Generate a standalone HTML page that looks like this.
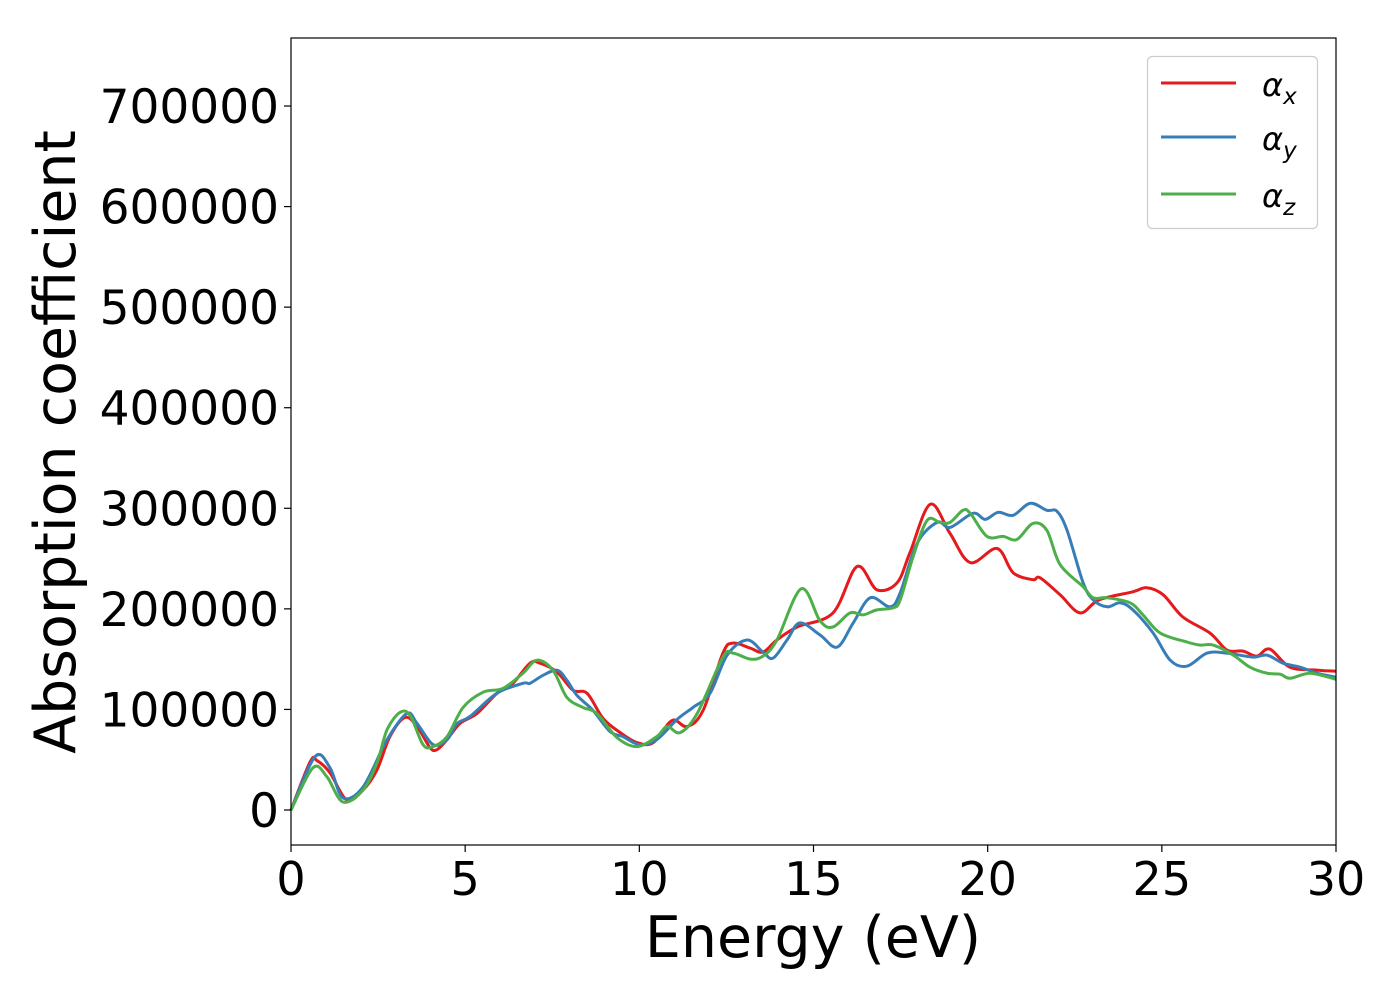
<!DOCTYPE html>
<html><head><meta charset="utf-8"><style>
body{margin:0;background:#fff;}
svg{display:block;font-family:"DejaVu Sans","Liberation Sans",sans-serif;}
</style></head><body>
<svg id="chart" width="1400" height="1000" viewBox="0 0 1400 1000" xmlns="http://www.w3.org/2000/svg">
<rect x="0" y="0" width="1400" height="1000" fill="#fff"/>
<g id="series"></g>
<rect x="291" y="38" width="1045" height="807" fill="none" stroke="#000" stroke-width="1.2"/>
<g id="xticks"></g>
<g id="yticks"></g>
<text x="813" y="957" font-size="57" text-anchor="middle">Energy (eV)</text>
<text transform="translate(75,442) rotate(-90)" font-size="57" text-anchor="middle">Absorption coefficient</text>
<g>
<rect x="1147.5" y="56.5" width="170" height="172" rx="5" fill="#fff" stroke="#ccc" stroke-width="1.2"/>
<line x1="1161" y1="83" x2="1236" y2="83" stroke="#e41a1c" stroke-width="3"/>
<line x1="1161" y1="137" x2="1236" y2="137" stroke="#377eb8" stroke-width="3"/>
<line x1="1161" y1="194" x2="1236" y2="194" stroke="#4daf4a" stroke-width="3"/>
<text x="1262" y="96" font-size="32" font-style="italic">α<tspan font-size="23" dy="8">x</tspan></text>
<text x="1262" y="150" font-size="32" font-style="italic">α<tspan font-size="23" dy="8">y</tspan></text>
<text x="1262" y="207" font-size="32" font-style="italic">α<tspan font-size="23" dy="8">z</tspan></text>
</g>
</svg>
<script>
const xTicks=[0,5,10,15,20,25,30];
const yTicks=[0,100000,200000,300000,400000,500000,600000,700000];
const xEnergy=[0,0.55,0.75,1.12,1.6,2.07,2.47,2.84,3.27,3.62,3.99,4.19,4.48,4.85,5.34,5.91,6.37,6.86,7.15,7.64,8.1,8.5,8.96,9.45,9.93,10.4,10.94,11.37,11.83,12.4,12.69,13.18,13.55,13.95,14.53,15.56,16.25,16.82,17.4,17.77,18.35,18.92,19.5,20.27,20.73,21.3,21.5,22.08,22.65,23.2,24.17,24.57,25.04,25.6,26.38,26.87,27.33,27.73,28.1,28.68,29.5,30];
const alphaX=[0,48,49,37,10,20,40,73,92,83,62,60,70,86,96,116,126,146,146,137,119,116,91,77,67,67,89,83,99,156,166,161,157,169,182,196,242,219,226,256,304,275,246,260,236,229,231,214,196,209,217,221,214,192,176,159,158,153,160,142,139,138];
const yEnergy=[0,0.69,1.12,1.49,2.07,2.76,3.33,3.62,4.08,4.48,4.77,5.14,5.91,6.66,6.86,7.24,7.64,7.92,8.21,8.67,9.16,9.53,10.0,10.5,11.08,11.54,12.03,12.52,13.09,13.55,13.84,14.24,14.61,15.19,15.68,16.14,16.63,17.2,17.49,17.97,18.55,18.92,19.58,19.93,20.3,20.73,21.22,21.7,21.99,22.28,22.74,23.03,23.43,23.8,24.17,24.75,25.24,25.72,26.3,26.87,27.62,28.02,28.48,28.97,29.46,30];
const alphaY=[0,53,42,12,23,70,96,86,65,70,86,93,116,126,126,134,139,129,114,99,78,73,65,70,90,102,116,154,169,157,151,169,186,174,162,186,211,202,216,265,286,281,295,289,296,293,305,298,297,278,226,209,202,206,199,176,149,143,156,156,152,154,146,142,136,132];
const zEnergy=[0,0.63,1.03,1.49,2.07,2.47,2.76,3.13,3.42,3.79,4.08,4.48,4.94,5.51,6.09,6.66,7.06,7.52,7.92,8.38,8.78,9.36,9.93,10.5,10.8,11.17,11.66,12.4,12.69,13.18,13.55,13.95,14.65,15.19,15.56,16.05,16.42,16.82,17.28,17.49,17.86,18.26,18.63,18.92,19.29,19.5,19.98,20.44,20.84,21.3,21.7,22.08,22.74,23.03,23.43,24.09,24.46,24.95,25.72,26.1,26.47,27.05,27.53,28.02,28.4,28.68,29.26,30];
const alphaZ=[0,42,33,8,20,47,80,97,94,65,63,73,102,117,121,136,149,139,112,102,96,72,63,73,83,77,96,152,156,150,153,169,220,188,182,196,194,199,201,209,252,288,286,286,298,295,272,272,269,285,278,244,222,211,211,206,194,176,167,164,164,154,142,136,135,131,136,130];
const valueScale=1000;
const NS="http://www.w3.org/2000/svg";
const X0=291,X1=1336,Y0=810,PXPER100K=100.57;
function sx(e){return X0+(e-0)/30*(X1-X0);}
function sy(v){return Y0-v/100000*PXPER100K;}
function pathFrom(xs,vs){
  const p=xs.map((e,i)=>[sx(e),sy(vs[i]*valueScale)]);
  let d="M"+p[0][0].toFixed(1)+","+p[0][1].toFixed(1);
  for(let i=0;i<p.length-1;i++){
    const a=p[Math.max(i-1,0)],b=p[i],c=p[i+1],e=p[Math.min(i+2,p.length-1)];
    const c1x=b[0]+(c[0]-a[0])/6,c1y=b[1]+(c[1]-a[1])/6;
    const c2x=c[0]-(e[0]-b[0])/6,c2y=c[1]-(e[1]-b[1])/6;
    d+=" C"+c1x.toFixed(1)+","+c1y.toFixed(1)+" "+c2x.toFixed(1)+","+c2y.toFixed(1)+" "+c[0].toFixed(1)+","+c[1].toFixed(1);
  }
  return d;
}
const g=document.getElementById("series");
function addLine(xs,vs,color,name){
  const el=document.createElementNS(NS,"path");
  el.setAttribute("d",pathFrom(xs,vs));
  el.setAttribute("fill","none");
  el.setAttribute("stroke",color);
  el.setAttribute("stroke-width","3");
  el.setAttribute("stroke-linejoin","round");
  
  
  g.appendChild(el);
}
addLine(xEnergy,alphaX,"#e41a1c","series-alpha-x");
addLine(yEnergy,alphaY,"#377eb8","series-alpha-y");
addLine(zEnergy,alphaZ,"#4daf4a","series-alpha-z");
const xg=document.getElementById("xticks");
xTicks.forEach(t=>{
  const l=document.createElementNS(NS,"line");
  l.setAttribute("x1",sx(t));l.setAttribute("x2",sx(t));
  l.setAttribute("y1",845);l.setAttribute("y2",852);
  l.setAttribute("stroke","#000");l.setAttribute("stroke-width","1.2");
  
  
  xg.appendChild(l);
  const tx=document.createElementNS(NS,"text");
  tx.setAttribute("x",sx(t));tx.setAttribute("y",895);
  tx.setAttribute("font-size","46");tx.setAttribute("text-anchor","middle");
  tx.textContent=String(t);
  
  
  xg.appendChild(tx);
});
const yg=document.getElementById("yticks");
yTicks.forEach(t=>{
  const l=document.createElementNS(NS,"line");
  l.setAttribute("x1",284);l.setAttribute("x2",291);
  l.setAttribute("y1",sy(t));l.setAttribute("y2",sy(t));
  l.setAttribute("stroke","#000");l.setAttribute("stroke-width","1.2");
  
  
  yg.appendChild(l);
  const tx=document.createElementNS(NS,"text");
  tx.setAttribute("x",279);tx.setAttribute("y",sy(t)+17);
  tx.setAttribute("font-size","47");tx.setAttribute("text-anchor","end");
  tx.textContent=String(t);
  
  
  yg.appendChild(tx);
});
</script>
</body></html>
